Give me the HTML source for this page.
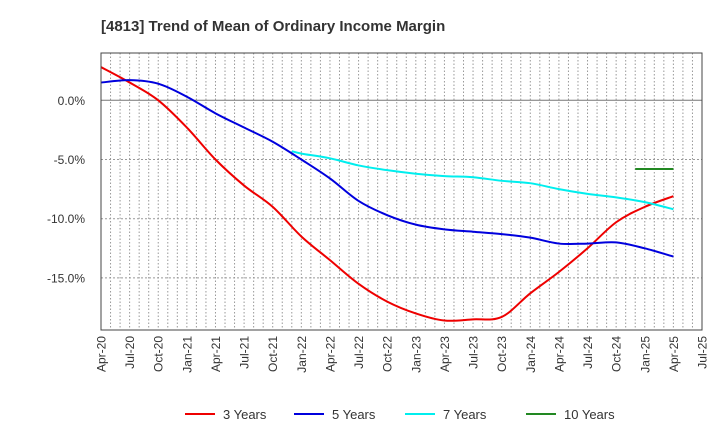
<!DOCTYPE html>
<html><head><meta charset="utf-8"><style>
body{margin:0;background:#fff;font-family:"Liberation Sans",sans-serif}
</style></head><body>
<svg id="c" width="720" height="440" xmlns="http://www.w3.org/2000/svg" style="font-family:'Liberation Sans',sans-serif">
<text x="101" y="31" font-size="15" font-weight="bold" fill="#333">[4813]  Trend of Mean of Ordinary Income Margin</text>
<g id="grid"></g><g id="series"></g><g id="axes"></g><g id="legend"></g>
</svg>
<script>
const xLabels=["Apr-20","Jul-20","Oct-20","Jan-21","Apr-21","Jul-21","Oct-21","Jan-22","Apr-22","Jul-22","Oct-22","Jan-23","Apr-23","Jul-23","Oct-23","Jan-24","Apr-24","Jul-24","Oct-24","Jan-25","Apr-25","Jul-25"];
const yTicks=[0,-5,-10,-15];
const s3=[2.8,1.5,0.0,-2.3,-5.0,-7.2,-9.0,-11.5,-13.5,-15.5,-17.0,-18.0,-18.6,-18.5,-18.3,-16.3,-14.5,-12.5,-10.3,-9.0,-8.1];
const s5=[1.5,1.7,1.4,0.3,-1.1,-2.3,-3.5,-5.0,-6.6,-8.5,-9.7,-10.5,-10.9,-11.1,-11.3,-11.6,-12.1,-12.1,-12.0,-12.5,-13.2];
const s7Months=[20,21,24,27,30,33,36,39,42,45,48,51,54,57,60];
const s7=[-4.3,-4.5,-4.9,-5.5,-5.9,-6.2,-6.4,-6.5,-6.8,-7.0,-7.5,-7.9,-8.2,-8.6,-9.2];
const s10Months=[56,60];
const s10=[-5.8,-5.8];
const L=101,R=702,T=53,B=330;
const X=m=>L+m*(R-L)/63;
const Y=v=>100.3-v*(59.2/5);
const NS="http://www.w3.org/2000/svg";
function mk(t,a,p){const e=document.createElementNS(NS,t);for(const k in a)e.setAttribute(k,a[k]);p.appendChild(e);return e;}
const g=document.getElementById('grid'),ax=document.getElementById('axes'),se=document.getElementById('series'),lg=document.getElementById('legend');
for(let m=1;m<63;m++){const l=mk('line',{x1:X(m),x2:X(m),y1:T,y2:B,stroke:'#999','stroke-width':1,'stroke-dasharray':'1.5,2'},g);

}
yTicks.forEach(v=>{const l=mk('line',{x1:L,x2:R,y1:Y(v),y2:Y(v),stroke:v===0?'#777':'#999','stroke-width':1,'stroke-dasharray':v===0?'':'2,2'},g);


const t=mk('text',{x:85,y:Y(v)+4.5,'text-anchor':'end','font-size':12,fill:'#333'},ax);t.textContent=v.toFixed(1)+'%';

});
const fr=mk('rect',{x:L,y:T,width:R-L,height:B-T,fill:'none',stroke:'#444','stroke-width':1},ax);


xLabels.forEach((s,i)=>{const x=X(i*3);const t=mk('text',{x:0,y:0,transform:`translate(${x+4.5},336) rotate(-90)`,'text-anchor':'end','font-size':12,fill:'#333'},ax);t.textContent=s;

});
function path(pts){if(pts.length<3)return 'M'+pts.map(p=>p.join(',')).join('L');let d='M'+pts[0].join(',');
for(let i=0;i<pts.length-1;i++){const p0=pts[Math.max(i-1,0)],p1=pts[i],p2=pts[i+1],p3=pts[Math.min(i+2,pts.length-1)];
d+=`C${p1[0]+(p2[0]-p0[0])/6},${p1[1]+(p2[1]-p0[1])/6} ${p2[0]-(p3[0]-p1[0])/6},${p2[1]-(p3[1]-p1[1])/6} ${p2[0]},${p2[1]}`;}return d;}
function series(vals,months,color,name){const pts=vals.map((v,i)=>[X(months[i]),Y(v)]);
const p=mk('path',{d:path(pts),fill:'none',stroke:color,'stroke-width':2},se);

}
const qm=s3.map((_,i)=>i*3);
series(s3,qm,'#ee0000','series-3-years');
series(s5,qm,'#0000dd','series-5-years');
series(s7,s7Months,'#00eeee','series-7-years');
series(s10,s10Months,'#228822','series-10-years');
[['3 Years','#ee0000',185],['5 Years','#0000dd',294],['7 Years','#00eeee',405],['10 Years','#228822',526]].forEach(([n,c,x])=>{
const l=mk('line',{x1:x,x2:x+30,y1:414,y2:414,stroke:c,'stroke-width':2},lg);


const t=mk('text',{x:x+38,y:419,'font-size':13,fill:'#333'},lg);t.textContent=n;

});
</script>
</body></html>
